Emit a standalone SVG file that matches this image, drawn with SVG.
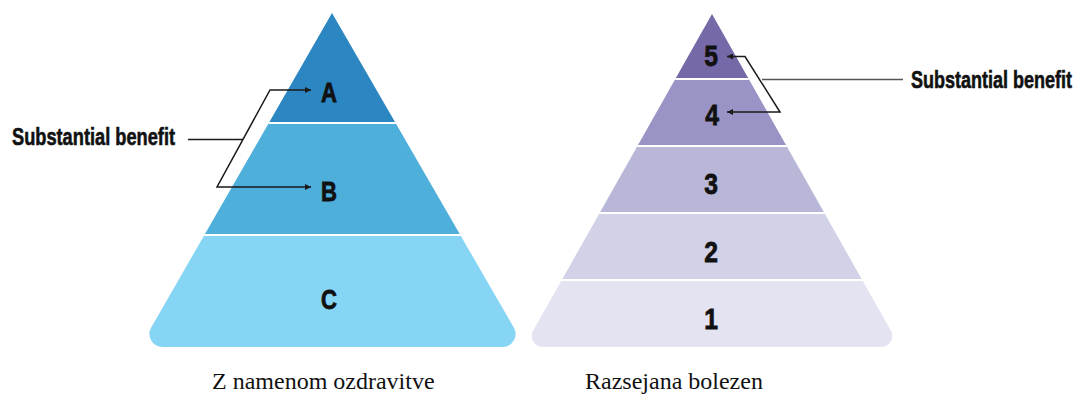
<svg xmlns="http://www.w3.org/2000/svg" width="1080" height="394" viewBox="0 0 1080 394">
  <style>
    .lbl { font-family: "Liberation Sans", Arial, sans-serif; font-weight: bold; fill: #111; stroke: #111; stroke-width: 0.8; text-anchor: middle; }
    .big { font-size: 27px; }
    .num { font-size: 29px; }
    .note { font-family: "Liberation Sans", Arial, sans-serif; font-weight: bold; font-size: 24px; fill: #111; stroke: #111; stroke-width: 0.6; }
    .cap { font-family: "Liberation Serif", "Times New Roman", serif; font-size: 24px; fill: #111; }
    .div { stroke: #ffffff; stroke-width: 2; }
    .conn { fill: none; stroke: #1a1a1a; stroke-width: 1.5; }
    .arr { marker-start: url(#ah); marker-end: url(#ah); }
  </style>
  <defs>
    <clipPath id="clipL">
      <path d="M332,13 L151.2,327.5 A13,13 0 0 0 162.5,347 L502.5,347 A13,13 0 0 0 513.8,327.5 Z"/>
    </clipPath>
    <clipPath id="clipR">
      <path d="M712,14 L533.2,330.6 A11,11 0 0 0 542.75,347 L881.25,347 A11,11 0 0 0 890.8,330.6 Z"/>
    </clipPath>
    <marker id="ah" viewBox="0 0 10 10" refX="10" refY="5" markerWidth="7" markerHeight="6" markerUnits="userSpaceOnUse" orient="auto-start-reverse">
      <path d="M0,0 L10,5 L0,10 Z" fill="#1a1a1a"/>
    </marker>
  </defs>

  <g id="pyramid-left">
    <g clip-path="url(#clipL)">
      <rect id="tier-A" x="130" y="0" width="410" height="123" fill="#2c86c1"/>
      <rect id="tier-B" x="130" y="123" width="410" height="112" fill="#4fafdb"/>
      <rect id="tier-C" x="130" y="235" width="410" height="120" fill="#87d5f5"/>
      <line class="div" x1="130" y1="123" x2="540" y2="123"/>
      <line class="div" x1="130" y1="235" x2="540" y2="235"/>
    </g>
    <text class="lbl big" transform="translate(329,102) scale(0.82,1)">A</text>
    <text class="lbl big" transform="translate(329,201) scale(0.82,1)">B</text>
    <text class="lbl big" transform="translate(329,309) scale(0.82,1)">C</text>
  </g>

  <g id="pyramid-right">
    <g clip-path="url(#clipR)">
      <rect id="tier-5" x="520" y="0" width="390" height="79" fill="#7669a8"/>
      <rect id="tier-4" x="520" y="79" width="390" height="67" fill="#9994c5"/>
      <rect id="tier-3" x="520" y="146" width="390" height="67" fill="#b8b7d7"/>
      <rect id="tier-2" x="520" y="213" width="390" height="67" fill="#d1d1e8"/>
      <rect id="tier-1" x="520" y="280" width="390" height="70" fill="#e3e3f2"/>
      <line class="div" x1="520" y1="79" x2="910" y2="79"/>
      <line class="div" x1="520" y1="146" x2="910" y2="146"/>
      <line class="div" x1="520" y1="213" x2="910" y2="213"/>
      <line class="div" x1="520" y1="280" x2="910" y2="280"/>
    </g>
    <text class="lbl num" transform="translate(711,66) scale(0.85,1)">5</text>
    <text class="lbl num" transform="translate(712,125) scale(0.85,1)">4</text>
    <text class="lbl num" transform="translate(711,194) scale(0.85,1)">3</text>
    <text class="lbl num" transform="translate(711,262) scale(0.85,1)">2</text>
    <text class="lbl num" transform="translate(711,329) scale(0.85,1)">1</text>
  </g>

  <g id="note-left">
    <text class="note" transform="translate(12,145) scale(0.76,1)">Substantial benefit</text>
  </g>
  <g id="note-right">
    <text class="note" transform="translate(911,88) scale(0.75,1)">Substantial benefit</text>
  </g>

  <g id="connectors">
    <line class="conn" x1="188" y1="139.5" x2="243" y2="139.5"/>
    <path class="conn arr" d="M311,90 H270 L217,187 H311"/>
    <line class="conn" x1="762" y1="79.5" x2="903" y2="79.5" style="stroke:#555"/>
    <path class="conn arr" d="M727,56.5 H745 L780,112 H727"/>
  </g>

  <g id="captions">
    <text class="cap" x="212" y="389">Z namenom ozdravitve</text>
    <text class="cap" x="585" y="389">Razsejana bolezen</text>
  </g>
</svg>
